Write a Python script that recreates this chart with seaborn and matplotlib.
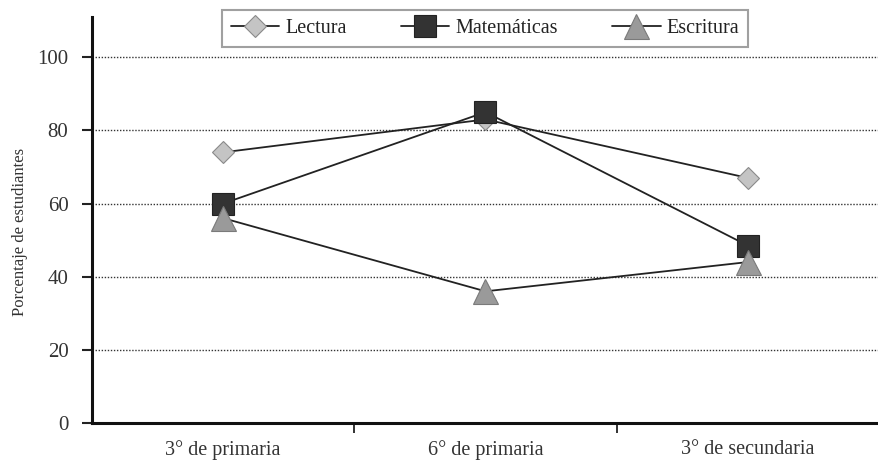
import numpy as np
import pandas as pd
import matplotlib
matplotlib.use("Agg")
import matplotlib.pyplot as plt
import seaborn as sns
from matplotlib.ticker import FixedLocator

grades = ["3° de primaria", "6° de primaria", "3° de secundaria"]
lectura = [74, 83, 67]
matematicas = [60, 85, 48.5]
escritura = [56, 36, 44]

sns.set_theme(style="white")
plt.rcParams["font.family"] = ["Liberation Serif", "DejaVu Serif"]
plt.rcParams["text.color"] = "#222222"

fig = plt.figure(figsize=(8.79, 4.62), dpi=100)
ax = fig.add_axes([92 / 879, 39 / 462, 787 / 879, 406 / 462])

series = [
    ("Lectura", lectura, "D", 11, "#c4c4c4", "#8a8a8a"),
    ("Matemáticas", matematicas, "s", 15.5, "#333333", "#222222"),
    ("Escritura", escritura, "^", 18, "#9a9a9a", "#7a7a7a"),
]

for name, vals, mk, ms, fc, ec in series:
    df = pd.DataFrame({"grado": grades, "valor": vals})
    sns.lineplot(
        data=df,
        x="grado",
        y="valor",
        ax=ax,
        color="#222222",
        linewidth=1.3,
        marker=mk,
        markersize=ms,
        markerfacecolor=fc,
        markeredgecolor=ec,
        markeredgewidth=0.8,
        label=name,
        sort=False,
    )

ax.set_xlim(-0.5, 2.5)
ax.set_ylim(0, 111)
ax.set_yticks([0, 20, 40, 60, 80, 100])
for yv in [20, 40, 60, 80, 100]:
    ax.axhline(yv, color="#333333", linestyle=(0, (1, 1.2)), linewidth=1.0, zorder=0)

ax.set_xticks([0, 1, 2])
ax.set_xticklabels(grades)
ax.xaxis.set_minor_locator(FixedLocator([0.5, 1.5]))
ax.tick_params(axis="x", which="major", length=0, pad=12, labelsize=14.5, labelcolor="#333333")
ax.tick_params(axis="x", which="minor", bottom=True, length=7, width=1.3, direction="out", color="#222222")
ax.tick_params(axis="y", left=True, length=7, width=1.5, pad=10, labelsize=15, labelcolor="#333333", color="#222222")

for side in ["top", "right"]:
    ax.spines[side].set_visible(False)
for side in ["left", "bottom"]:
    ax.spines[side].set_linewidth(2.2)
    ax.spines[side].set_color("#111111")

ax.set_xlabel("")
ax.set_ylabel("Porcentaje de estudiantes", fontsize=12, color="#333333")
ax.yaxis.set_label_coords(-0.081, 0.47)

ax.get_legend().remove()
handles, labels = ax.get_legend_handles_labels()
leg = fig.legend(
    handles,
    labels,
    loc="upper center",
    bbox_to_anchor=(485 / 879, 1 - 10 / 462),
    borderaxespad=0,
    ncol=3,
    fontsize=14.5,
    frameon=True,
    fancybox=False,
    edgecolor="#888888",
    handlelength=2.4,
    columnspacing=2.7,
    borderpad=0.45,
    handletextpad=0.3,
)
leg.get_frame().set_linewidth(1.5)

fig.savefig("out.png", dpi=100)
